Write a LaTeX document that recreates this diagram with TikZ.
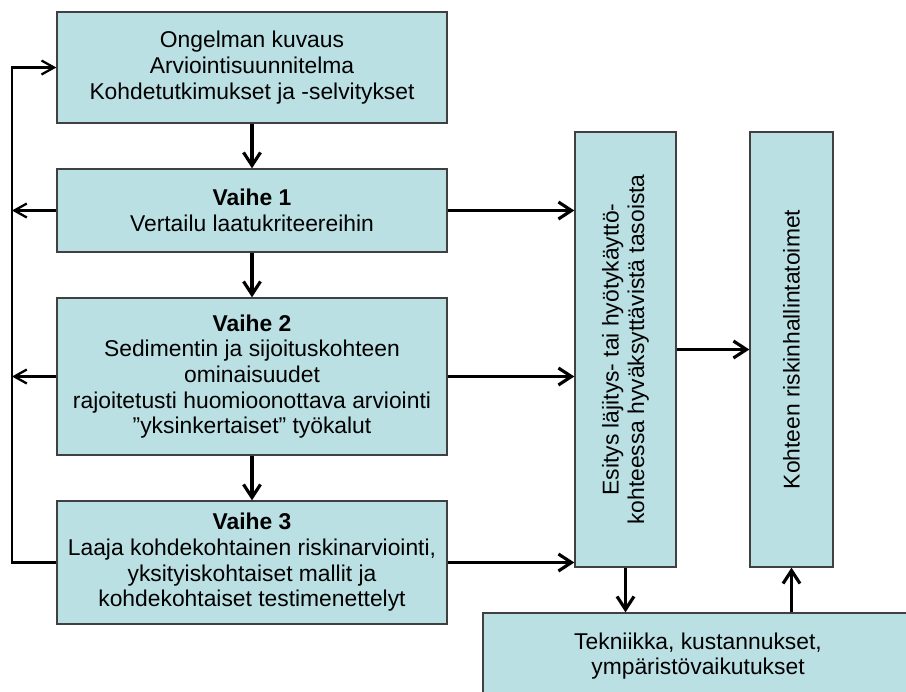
\documentclass[tikz,border=0pt]{standalone}
\usepackage{fontspec}
\setmainfont{Liberation Sans}
\usetikzlibrary{arrows.meta,positioning}
\definecolor{boxfill}{RGB}{186,224,228}

\begin{document}
\begin{tikzpicture}[x=0.02cm,y=-0.02cm,
  box/.style={draw=black!75,line width=0.8pt,fill=boxfill,align=center,inner sep=0pt,font=\fontsize{13}{14.6}\selectfont},
  flow/.style={-{Straight Barb[length=2.6mm,width=3.4mm]},line width=1.8pt},
  back/.style={-{Straight Barb[length=2.5mm,width=2.8mm]},line width=1.3pt}]
\useasboundingbox (0,0) rectangle (906,691);
\clip (0,0) rectangle (906,691);
% left column
\node[box,minimum width=7.8cm,minimum height=2.22cm] (b0) at (252,67.5) {Ongelman kuvaus\\Arviointisuunnitelma\\Kohdetutkimukset ja -selvitykset};
\node[box,minimum width=7.8cm,minimum height=1.66cm] (v1) at (252,210.5) {\textbf{Vaihe 1}\\Vertailu laatukriteereihin};
\node[box,minimum width=7.8cm,minimum height=3.14cm] (v2) at (252,376.5) {\textbf{Vaihe 2}\\Sedimentin ja sijoituskohteen\\ominaisuudet\\rajoitetusti huomioonottava arviointi\\”yksinkertaiset” työkalut};
\node[box,minimum width=7.8cm,minimum height=2.46cm] (v3) at (252,562.5) {\textbf{Vaihe 3}\\Laaja kohdekohtainen riskinarviointi,\\yksityiskohtaiset mallit ja\\kohdekohtaiset testimenettelyt};
% right column
\node[box,minimum width=2.02cm,minimum height=8.7cm] (esitys) at (625.5,349.5) {};
\node[box,draw=none,fill=none,rotate=90] (esitysTxt) at (esitys) {Esitys läjitys- tai hyötykäyttö-\\kohteessa hyväksyttävistä tasoista};
\node[box,minimum width=1.66cm,minimum height=8.7cm] (kohteen) at (791.5,349.5) {};
\node[box,draw=none,fill=none,rotate=90] (kohteenTxt) at (kohteen) {Kohteen riskinhallintatoimet};
\node[box,minimum width=8.6cm,minimum height=1.72cm] (tekn) at (698,656) {Tekniikka, kustannukset,\\ympäristövaikutukset};
% arrows
\draw[flow] (b0.south)--(v1.north);
\draw[flow] (v1.south)--(v2.north);
\draw[flow] (v2.south)--(v3.north);
\draw[flow] (v1.east)--(v1.east -| esitys.west);
\draw[flow] (v2.east)--(v2.east -| esitys.west);
\draw[flow] (v3.east)--(v3.east -| esitys.west);
\draw[flow] (esitys.east)--(kohteen.west);
\draw[flow] (esitys.south)--(esitys.south |- tekn.north);
\draw[flow] (kohteen.south |- tekn.north)--(kohteen.south);
% feedback
\coordinate (fb) at (12,0);
\draw[back] (v3.west) -| (fb |- b0.west) -- (b0.west);
\draw[back] (v1.west)--(v1.west -| fb);
\draw[back] (v2.west)--(v2.west -| fb);
\end{tikzpicture}
\end{document}
